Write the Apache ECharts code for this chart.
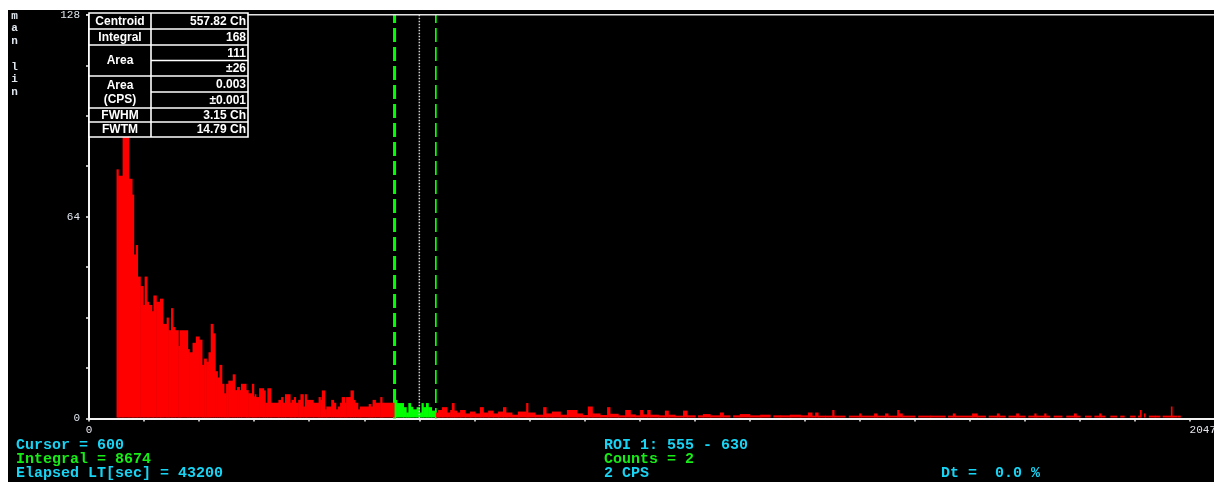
<!DOCTYPE html>
<html>
<head>
<meta charset="utf-8">
<script src="https://cdn.jsdelivr.net/npm/echarts@6/dist/echarts.min.js"></script>
<style>
  html, body { margin: 0; padding: 0; background: #fff; overflow: hidden; width: 1214px; height: 482px; }
  #chart { position: absolute; left: 8px; top: 10px; width: 1206px; height: 472px; background: #000; }
</style>
</head>
<body>
<div id="chart"></div>
<script>
// Spectrum as histogram steps: each step starts at stepStart[i] (channel) and runs
// to the next start; the last one ends at spectrumEnd.
const stepStart = [
  50, 53, 61, 72, 78, 81, 85, 88, 93, 98, 101, 105, 108, 114, 117, 122, 129, 134, 141, 144,
  149, 152, 156, 162, 165, 179, 182, 188, 194, 200, 205, 209, 213, 217, 221, 225, 229, 233, 237, 241,
  245, 249, 253, 261, 265, 269, 273, 276, 285, 289, 296, 299,
  301, 303, 309, 317, 320, 324, 330, 344, 349, 352, 356, 365, 368, 372, 375, 380, 384, 389,
  392, 395, 407, 417, 420, 423, 428, 431, 440, 444, 448, 452, 456, 459, 464, 467, 475, 480,
  483, 488, 492, 508, 511, 515, 520, 529, 532,
  555, 559, 571, 576, 580, 584, 588, 595, 600, 604, 607, 612, 616, 622,
  630, 634, 641, 650, 656, 659, 663, 668, 674, 683, 692, 701, 710, 716, 725, 734, 743, 752, 757, 768,
  779, 794, 797, 810, 825, 830, 841, 856, 868, 886, 896, 906, 914, 928, 941, 946, 961, 974, 983, 992,
  1001, 1006, 1014, 1019, 1034, 1046, 1052, 1064, 1079, 1086, 1101, 1106, 1115, 1128, 1146, 1152, 1164, 1170, 1182, 1200,
  1219, 1237, 1243, 1255, 1273, 1292, 1306, 1313, 1319, 1324, 1337, 1350, 1353, 1373, 1380, 1399, 1402, 1426, 1431, 1446,
  1451, 1468, 1471, 1477, 1500, 1506, 1528, 1555, 1560, 1569, 1573, 1604, 1613, 1628, 1634, 1649, 1653, 1664, 1670, 1684,
  1688, 1700, 1706, 1717, 1720, 1735, 1738, 1745, 1752, 1767, 1775, 1789, 1793, 1800, 1809, 1820, 1826, 1835, 1838, 1845,
  1855, 1866, 1873, 1880, 1891, 1900, 1905, 1909, 1911, 1916, 1918, 1925, 1936, 1945, 1950, 1965, 1967, 1975, 1977
];
const stepCount = [
  79, 77, 90, 76, 71, 52, 55, 45, 42, 36, 45, 37, 36, 34, 39, 37, 38, 30, 32, 28,
  35, 29, 28, 23, 28, 22, 21, 24, 26, 25, 17, 19, 18, 21, 30, 27, 15, 13, 17, 11,
  8, 11, 12, 14, 9, 10, 9, 11, 9, 8, 11, 7,
  7.7, 6.8, 9.6, 8.9, 5, 9.6, 5, 5.9, 6.8, 5, 7.7, 5, 5.9, 6.8, 5, 5.9, 7.7, 3.8,
  7.7, 5.9, 5, 6.8, 5.9, 8.9, 2.9, 3.8, 5.9, 5, 2.9, 3.8, 5, 6.8, 5, 6.8, 8.9, 5.9,
  5, 2.9, 3.8, 4.6, 3.8, 5.9, 5, 6.8, 5,
  5.9, 4.9, 3.6, 1.9, 4.9, 3.7, 2.9, 3.6, 1.9, 4.9, 3.6, 4.9, 3.6, 2.5,
  1.9, 2.7, 3.6, 1.9, 2.7, 4.9, 2.5, 1.9, 2.7, 1.6, 2.2, 1.6, 3.6, 1.9, 2.5, 1.6, 2.2, 3.6, 1.9, 1.2,
  2.2, 4.9, 1.9, 1.2, 3.6, 1.6, 2.2, 1.2, 2.7, 1.6, 1.1, 3.8, 1.6, 1.1, 3.6, 1.5, 1.0, 2.7, 1.3, 1.0,
  2.7, 1.3, 2.7, 1.2, 1.0, 2.5, 1.2, 0.9, 2.5, 1.0, 0, 1.0, 1.4, 1.0, 1.9, 1.0, 0, 1.0, 1.4, 1.0,
  1.2, 0, 1.0, 1.0, 1.2, 1.0, 1.9, 0.9, 1.9, 0.9, 0.9, 2.7, 0.9, 0, 0.9, 1.6, 0.9, 1.6, 0.9, 1.6,
  0.9, 2.7, 1.6, 0.9, 0, 0.9, 0.9, 0, 0.9, 1.6, 0.9, 1.6, 0.9, 0, 0.9, 1.6, 0.9, 0, 0.9, 1.6,
  0.9, 0, 0.9, 1.6, 0.9, 1.6, 0.9, 0, 0.9, 0, 0.9, 1.6, 0.9, 0, 0.9, 0, 0.9, 1.6, 0.9, 0,
  0.9, 0, 0.9, 0, 0.9, 0, 0.9, 2.7, 0, 1.6, 0, 0.9, 0.9, 0, 0.9, 3.8, 0.9, 0, 0.9
];
const spectrumEnd = 1982;

// Region of interest and cursor (channels)
const roiRange = [555, 630];
const cursorChannel = 600;

// Axis ranges and the tick values that carry a label
const channelMax = 2047;
const countMax = 128;
const xLabelValues = [0, 2047];
const yLabelValues = [0, 64, 128];

// Peak report table
const peakLabels = ['Centroid', 'Integral', 'Area', 'Area\n(CPS)', 'FWHM', 'FWTM'];
const peakValues = [['557.82 Ch'], ['168'], ['111', '±26'], ['0.003', '±0.001'], ['3.15 Ch'], ['14.79 Ch']];

// Status lines under the plot
const statusLeft = ['Cursor = 600', 'Integral = 8674', 'Elapsed LT[sec] = 43200'];
const statusMid = ['ROI 1: 555 - 630', 'Counts = 2', '2 CPS'];
const statusRight = 'Dt =  0.0 %';
const scaleLetters = ['m', 'a', 'n', '', 'l', 'i', 'n'];

// ---------------------------------------------------------------------------
const OX = 8, OY = 10;           // page offset of the chart box
const BOX_W = 1206, BOX_H = 472;
const CYAN = '#18d4f4', GREEN = '#16ec16', RED = '#ff0000', ROI_GREEN = '#00ff00';
const monoBold = (s) => 'bold ' + s + 'px "Liberation Mono", "DejaVu Sans Mono", monospace';

const steps = stepStart.map((s, i) => [s, i + 1 < stepStart.length ? stepStart[i + 1] : spectrumEnd, stepCount[i]]);

const chart = echarts.init(document.getElementById('chart'), null, { renderer: 'canvas' });

const graphics = [];

// top frame line of the plot area
graphics.push({
  type: 'line', z: 30,
  shape: { x1: 86 - OX, y1: 14.8 - OY, x2: BOX_W, y2: 14.8 - OY },
  style: { stroke: '#e4e4e4', lineWidth: 1.5 }
});

// status lines
const rowY = [445, 459, 473];
const leftColors = [CYAN, GREEN, CYAN];
const midColors = [CYAN, GREEN, CYAN];
statusLeft.forEach((t, i) => graphics.push({
  type: 'text', z: 50, style: { text: t, x: 16 - OX, y: rowY[i] - OY, fill: leftColors[i], font: monoBold(15), textAlign: 'left', textVerticalAlign: 'middle' }
}));
statusMid.forEach((t, i) => graphics.push({
  type: 'text', z: 50, style: { text: t, x: 604 - OX, y: rowY[i] - OY, fill: midColors[i], font: monoBold(15), textAlign: 'left', textVerticalAlign: 'middle' }
}));
graphics.push({
  type: 'text', z: 50, style: { text: statusRight, x: 941 - OX, y: rowY[2] - OY, fill: CYAN, font: monoBold(15), textAlign: 'left', textVerticalAlign: 'middle' }
});

// vertical scale mode letters
scaleLetters.forEach((t, i) => {
  if (!t) return;
  graphics.push({
    type: 'text', z: 50, style: { text: t, x: 14.5 - OX, y: 16 + i * 12.7 - OY, fill: '#dfe6ee', font: monoBold(11), textAlign: 'center', textVerticalAlign: 'middle' }
  });
});

// peak report table
const tX0 = 89, tX1 = 248, tXm = 151;
const rowTops = [13, 29, 45, 76, 108, 122, 137];
const tableStroke = { stroke: '#ffffff', lineWidth: 1.6 };
graphics.push({
  type: 'rect', z: 40,
  shape: { x: tX0 - OX, y: rowTops[0] - OY, width: tX1 - tX0, height: rowTops[6] - rowTops[0] },
  style: Object.assign({ fill: '#000' }, tableStroke)
});
graphics.push({ type: 'line', z: 41, shape: { x1: tXm - OX, y1: rowTops[0] - OY, x2: tXm - OX, y2: rowTops[6] - OY }, style: tableStroke });
for (let r = 1; r < 6; r++) {
  graphics.push({ type: 'line', z: 41, shape: { x1: tX0 - OX, y1: rowTops[r] - OY, x2: tX1 - OX, y2: rowTops[r] - OY }, style: tableStroke });
}
const tableFont = 'bold 12px "Liberation Sans", Arial, sans-serif';
peakLabels.forEach((lab, r) => {
  const top = rowTops[r], bot = rowTops[r + 1];
  graphics.push({
    type: 'text', z: 42,
    style: { text: lab, x: (tX0 + tXm) / 2 - OX, y: (top + bot) / 2 + 0.5 - OY, fill: '#fff', font: tableFont, textAlign: 'center', textVerticalAlign: 'middle', lineHeight: 14 }
  });
  const vals = peakValues[r];
  const h = (bot - top) / vals.length;
  vals.forEach((v, k) => {
    if (k > 0) {
      graphics.push({ type: 'line', z: 41, shape: { x1: tXm - OX, y1: top + h * k - OY, x2: tX1 - OX, y2: top + h * k - OY }, style: tableStroke });
    }
    graphics.push({
      type: 'text', z: 42,
      style: { text: v, x: tX1 - 2 - OX, y: top + h * (k + 0.5) + 0.5 - OY, fill: '#fff', font: tableFont, textAlign: 'right', textVerticalAlign: 'middle' }
    });
  });
});

// plot area: channel 2047 sits just past the right edge of the window
const gridLeft = 89 - OX, gridTop = 14.8 - OY, gridBottom = BOX_H - (418.5 - OY);
const gridRight = BOX_W - (1216 - OX);

function vLine(params, api, style) {
  const x = api.value(0);
  const p0 = api.coord([x, countMax]);
  const p1 = api.coord([x, 0]);
  return { type: 'line', shape: { x1: p0[0], y1: p0[1], x2: p1[0], y2: p1[1] }, style: style };
}

chart.setOption({
  backgroundColor: '#000',
  animation: false,
  grid: {
    left: gridLeft, right: gridRight, top: gridTop, bottom: gridBottom,
    show: false, containLabel: false, outerBoundsMode: 'none'
  },
  xAxis: {
    type: 'value', min: 0, max: channelMax, interval: 100,
    splitLine: { show: false },
    axisLine: { show: true, onZero: false, lineStyle: { color: '#f2f2f2', width: 2 } },
    axisTick: { show: true, length: 3, inside: false, lineStyle: { color: '#f2f2f2', width: 1.5 } },
    axisLabel: {
      show: true, margin: 6, color: '#e8e4ec', fontFamily: '"Liberation Mono", monospace', fontSize: 11,
      alignMaxLabel: 'right',
      formatter: (v) => (xLabelValues.indexOf(v) >= 0 ? String(v) : '')
    }
  },
  yAxis: {
    type: 'value', min: 0, max: countMax, interval: 16,
    splitLine: { show: false },
    axisLine: { show: true, onZero: false, lineStyle: { color: '#f2f2f2', width: 2 } },
    axisTick: { show: true, length: 3, inside: false, lineStyle: { color: '#f2f2f2', width: 1.5 } },
    axisLabel: {
      show: true, margin: 9, color: '#dfe6ee', fontFamily: '"Liberation Mono", monospace', fontSize: 11,
      formatter: (v) => (yLabelValues.indexOf(v) >= 0 ? String(v) : '')
    }
  },
  series: [
    {
      // ROI boundaries, drawn behind the spectrum
      type: 'custom', name: 'ROI', z: 1, silent: true,
      data: roiRange.map((c) => [c]),
      renderItem: (params, api) => vLine(params, api, {
        stroke: ROI_GREEN, lineWidth: params.dataIndex === 0 ? 3 : 1.7,
        lineDash: [14, 5], lineDashOffset: 5.7
      })
    },
    {
      type: 'custom', name: 'Spectrum', z: 2, silent: true,
      data: steps,
      renderItem: (params, api) => {
        const s = api.value(0), e = api.value(1), c = api.value(2);
        if (c <= 0) return null;
        const p0 = api.coord([s, c]);
        const p1 = api.coord([e, 0]);
        const inRoi = s >= roiRange[0] && s < roiRange[1];
        return {
          type: 'rect',
          shape: { x: p0[0], y: p0[1], width: p1[0] - p0[0] + 0.6, height: p1[1] - p0[1] - 1 },
          style: { fill: inRoi ? ROI_GREEN : RED }
        };
      }
    },
    {
      // cursor, drawn over the spectrum
      type: 'custom', name: 'Cursor', z: 3, silent: true,
      data: [[cursorChannel]],
      renderItem: (params, api) => vLine(params, api, {
        stroke: '#d0d0d0', lineWidth: 1.5, lineDash: [1.5, 1.5]
      })
    }
  ],
  graphic: graphics
});
</script>
</body>
</html>
